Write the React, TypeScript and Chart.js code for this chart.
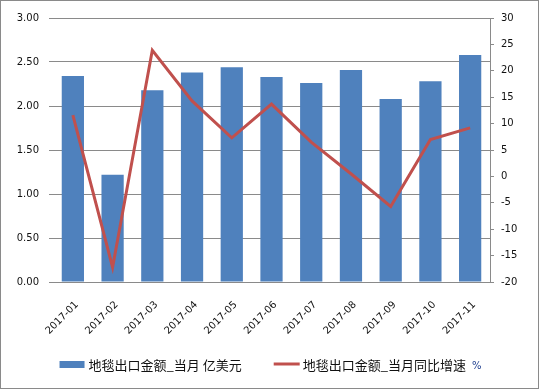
import React, { useEffect, useRef } from "react";
import { Chart, registerables } from "chart.js";

Chart.register(...registerables);

const categories = ["2017-01", "2017-02", "2017-03", "2017-04", "2017-05", "2017-06", "2017-07", "2017-08", "2017-09", "2017-10", "2017-11"];
const exportValue = [2.34, 1.22, 2.18, 2.38, 2.44, 2.33, 2.26, 2.41, 2.08, 2.28, 2.58];
const yoyGrowth = [11.6, -17.2, 23.9, 14.3, 7.3, 13.7, 6.5, 0.5, -5.7, 7.0, 9.2];
const barLabel = "地毯出口金额_当月 亿美元";
const lineLabel = "地毯出口金额_当月同比增速";
const lineUnit = "%";

const BAR_COLOR = "#4F81BD";
const LINE_COLOR = "#C0504D";
const GRID = "#8a8a8a";
const TICK_FONT = { family: "'DejaVu Sans', sans-serif", size: 10 };

const legendPlugin = {
  id: "customLegend",
  afterDraw(chart: any) {
    const ctx = chart.ctx as CanvasRenderingContext2D;
    ctx.save();
    const font = "13px 'Noto Sans CJK SC', sans-serif";
    const unitFont = "10px 'DejaVu Sans', sans-serif";
    ctx.font = font;
    const w1 = ctx.measureText(barLabel).width;
    const w2 = ctx.measureText(lineLabel).width;
    ctx.font = unitFont;
    const wu = ctx.measureText(lineUnit).width;
    const item1 = 25 + 4 + w1;
    const item2 = 26 + 3 + w2 + 6 + wu;
    const gap = 32;
    const total = item1 + gap + item2;
    let x = chart.width / 2 - total / 2 + 1;
    const y = chart.height - 24;
    ctx.fillStyle = BAR_COLOR;
    ctx.fillRect(x, y - 3, 25, 7);
    ctx.font = font;
    ctx.fillStyle = "#111";
    ctx.textBaseline = "middle";
    ctx.textAlign = "left";
    ctx.fillText(barLabel, x + 29, y + 1);
    x += item1 + gap;
    ctx.strokeStyle = LINE_COLOR;
    ctx.lineWidth = 3;
    ctx.beginPath();
    ctx.moveTo(x, y);
    ctx.lineTo(x + 26, y);
    ctx.stroke();
    ctx.fillText(lineLabel, x + 29, y + 1);
    ctx.font = unitFont;
    ctx.fillStyle = "#1F3F8F";
    ctx.fillText(lineUnit, x + 29 + w2 + 6, y + 2);
    ctx.restore();
  },
};

export default function App() {
  const ref = useRef<HTMLCanvasElement>(null);
  useEffect(() => {
    document.body.style.margin = "0";
    const chart = new Chart(ref.current!, {
      type: "bar",
      data: {
        labels: categories,
        datasets: [
          {
            type: "line",
            label: lineLabel,
            data: yoyGrowth,
            yAxisID: "y1",
            borderColor: LINE_COLOR,
            backgroundColor: LINE_COLOR,
            borderWidth: 3,
            pointRadius: 0,
            tension: 0,
            order: 0,
          } as any,
          {
            type: "bar",
            label: barLabel,
            data: exportValue,
            yAxisID: "y",
            backgroundColor: BAR_COLOR,
            categoryPercentage: 1,
            barPercentage: 0.56,
            order: 1,
          },
        ],
      },
      options: {
        animation: false,
        responsive: false,
        maintainAspectRatio: false,
        layout: { padding: { top: 17, left: 0, right: 0, bottom: 0 } },
        plugins: { legend: { display: false }, tooltip: { enabled: false } },
        scales: {
          x: {
            grid: { display: false },
            border: { display: true, color: GRID },
            ticks: {
              font: TICK_FONT,
              color: "#111",
              maxRotation: 45,
              minRotation: 45,
              autoSkip: false,
              padding: 9,
              labelOffset: 4,
            },
            afterFit: (s: any) => {
              s.height = 106;
            },
          },
          y: {
            position: "left",
            min: 0,
            max: 3,
            grid: { color: GRID, tickLength: 4, drawTicks: true },
            border: { display: false },
            ticks: {
              stepSize: 0.5,
              font: TICK_FONT,
              color: "#111",
              padding: 10,
              callback: (v: any) => Number(v).toFixed(2),
            },
            afterFit: (s: any) => {
              s.width = 52;
            },
          },
          y1: {
            position: "right",
            min: -20,
            max: 30,
            grid: { drawOnChartArea: false, color: GRID, tickLength: 4 },
            border: { display: true, color: GRID },
            ticks: { stepSize: 5, font: TICK_FONT, color: "#111", padding: 7 },
            afterFit: (s: any) => {
              s.width = 48;
            },
          },
        },
      },
      plugins: [legendPlugin],
    });
    return () => chart.destroy();
  }, []);
  return (
    <div
      style={{
        position: "absolute",
        left: 0,
        top: 0,
        width: 539,
        height: 389,
        border: "1px solid #8a8a8a",
        boxSizing: "border-box",
        background: "#fff",
      }}
    >
      <canvas ref={ref} width={537} height={387} style={{ display: "block", width: 537, height: 387 }} />
    </div>
  );
}
